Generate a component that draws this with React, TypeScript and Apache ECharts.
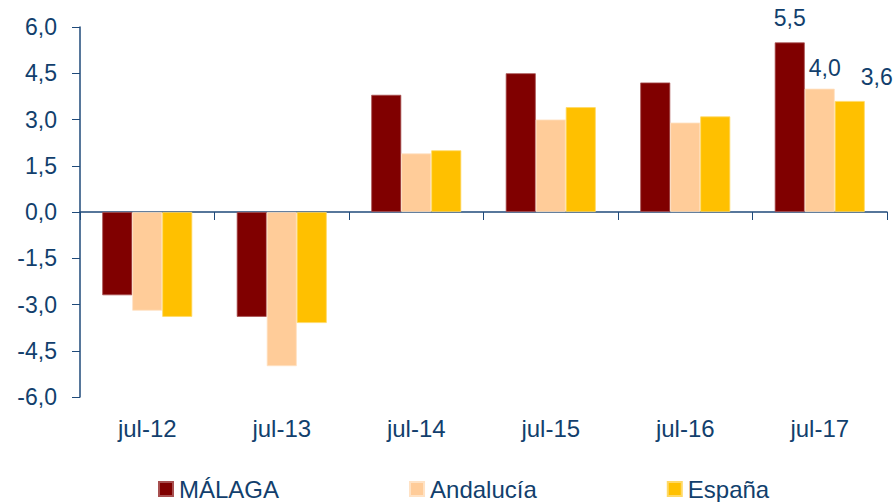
import React, { useEffect, useRef } from "react";
import * as echarts from "echarts";

const categories = ["jul-12", "jul-13", "jul-14", "jul-15", "jul-16", "jul-17"];
const malaga = [-2.7, -3.4, 3.8, 4.5, 4.2, 5.5];
const andalucia = [-3.2, -5.0, 1.9, 3.0, 2.9, 4.0];
const espana = [-3.4, -3.6, 2.0, 3.4, 3.1, 3.6];
const seriesNames = ["MÁLAGA", "Andalucía", "España"];
const yTicks = { min: -6, max: 6, interval: 1.5 };

const NAVY = "#123f6d";
const AXIS = "#1f4a7a";
const FONT = "Liberation Sans, Arial, sans-serif";

const fmt = (v: number) => v.toFixed(1).replace(".", ",");

function withLastLabel(values: number[], offset: [number, number], distance: number) {
  return values.map((v, i) =>
    i === values.length - 1
      ? {
          value: v,
          label: {
            show: true,
            position: "top",
            distance,
            offset,
            formatter: (p: any) => fmt(p.value),
            color: NAVY,
            fontSize: 23,
            fontFamily: FONT,
          },
        }
      : v
  );
}

export default function App() {
  const ref = useRef<HTMLDivElement>(null);
  useEffect(() => {
    if (!ref.current) return;
    const chart = echarts.init(ref.current, undefined, { renderer: "svg" });
    chart.setOption({
      animation: false,
      grid: { left: 80, right: 7, top: 27, bottom: 105, containLabel: false },
      legend: {
        data: seriesNames,
        left: 158,
        top: 477,
        padding: 0,
        itemGap: 130,
        itemWidth: 14,
        itemHeight: 14,
        icon: "rect",
        textStyle: { color: NAVY, fontSize: 24, lineHeight: 22, fontFamily: FONT, padding: [0, 0, 0, 1] },
      },
      xAxis: [
        {
          type: "category",
          data: categories,
          axisLine: { show: true, onZero: true, lineStyle: { color: AXIS, width: 1.5 } },
          axisTick: { show: true, length: 8, lineStyle: { color: AXIS } },
          axisLabel: { show: false },
        },
        {
          type: "category",
          data: categories,
          position: "bottom",
          axisLine: { show: false, onZero: false },
          axisTick: { show: false },
          axisLabel: { color: NAVY, fontSize: 24, fontFamily: FONT, margin: 19 },
        },
      ],
      yAxis: {
        type: "value",
        min: yTicks.min,
        max: yTicks.max,
        interval: yTicks.interval,
        axisLine: { show: true, lineStyle: { color: AXIS, width: 1.5 } },
        axisTick: { show: true, length: 8, lineStyle: { color: AXIS } },
        splitLine: { show: false },
        axisLabel: { color: NAVY, fontSize: 23, fontFamily: FONT, margin: 23, formatter: (v: number) => fmt(v) },
      },
      series: [
        {
          name: seriesNames[0],
          type: "bar",
          xAxisIndex: 0,
          barWidth: 30,
          barGap: "0%",
          data: withLastLabel(malaga, [0, 0], 13),
          itemStyle: { color: "#800000", borderColor: "#a85050", borderWidth: 0.8 },
        },
        {
          name: seriesNames[1],
          type: "bar",
          xAxisIndex: 0,
          barWidth: 30,
          barGap: "0%",
          data: withLastLabel(andalucia, [5, 0], 9),
          itemStyle: { color: "#FFCC99", borderColor: "#ffe2c4", borderWidth: 0.8 },
        },
        {
          name: seriesNames[2],
          type: "bar",
          xAxisIndex: 0,
          barWidth: 30,
          barGap: "0%",
          data: withLastLabel(espana, [27, 0], 13),
          itemStyle: { color: "#FFC000", borderColor: "#ffd966", borderWidth: 0.8 },
        },
      ],
    });
    return () => chart.dispose();
  }, []);
  return <div ref={ref} style={{ width: 894, height: 502, position: "absolute", left: 0, top: 0 }} />;
}
